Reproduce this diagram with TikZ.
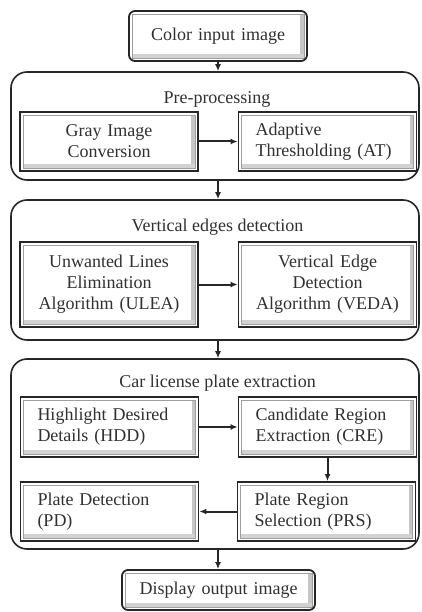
\documentclass[tikz,border=0pt]{standalone}
\usepackage{fontspec}
\setmainfont{Liberation Serif}
\usetikzlibrary{arrows.meta,calc}
\definecolor{lineC}{HTML}{262626}
\definecolor{textC}{HTML}{303030}
\tikzset{
  cont/.style={draw=lineC, line width=1.6pt, rounded corners=16pt, minimum width=408pt, inner sep=0pt},
  pbox/.style={draw=lineC, line width=1.8pt, minimum width=178pt, inner sep=0pt, text=textC,
    font=\fontsize{18}{21}\selectfont,
    path picture={
      \fill[gray!45, sharp corners] ([shift={(-7,3)}]path picture bounding box.north east) rectangle ([shift={(-3,-3)}]path picture bounding box.south east);
      \fill[gray!35, sharp corners] ([shift={(3,-7)}]path picture bounding box.south west) rectangle ([shift={(-3,-3)}]path picture bounding box.south east);
      \draw[gray!75, line width=0.8pt, sharp corners] ([shift={(3,3)}]path picture bounding box.north west) rectangle ([shift={(-3,-3)}]path picture bounding box.south east);
    }},
  cbox/.style={pbox, align=center, text width=160pt},
  lbox/.style={pbox, align=left, text width=144pt},
  ttl/.style={text=textC, font=\fontsize{18}{21}\selectfont, inner sep=0pt},
  arr/.style={draw=lineC, line width=2pt, -{Latex[length=7pt,width=6pt]}}
}
\begin{document}
\begin{tikzpicture}[x=1pt,y=-1pt]
\useasboundingbox (0,0) rectangle (421,612);
% containers
\node[cont, minimum height=108pt] (c1) at (215,126) {};
\node[cont, minimum height=140pt] (c2) at (215,270) {};
\node[cont, minimum height=190pt] (c3) at (215,454) {};
\node[ttl] (t1) at (217,99) {Pre-processing};
\node[ttl] (t2) at (217.5,227) {Vertical edges detection};
\node[ttl] (t3) at (217.5,383) {Car license plate extraction};
% top and bottom boxes
\node[pbox, rounded corners=6pt, minimum height=50pt, text width=160pt, align=center] (in) at (218,36) {Color input image};
\node[pbox, rounded corners=6pt, minimum width=193pt, minimum height=40pt, text width=175pt, align=center] (out) at (218.5,590) {Display output image};
% inner boxes
\node[cbox, minimum height=59pt] (gray) at (109,141.5) {Gray Image\\Conversion};
\node[lbox, minimum height=59pt] (at) at (327.5,141.5) {Adaptive\\Thresholding (AT)};
\node[cbox, minimum height=85pt] (ulea) at (109,284.5) {Unwanted Lines\\Elimination\\Algorithm (ULEA)};
\node[cbox, minimum height=85pt] (veda) at (327.5,284.5) {Vertical Edge\\Detection\\Algorithm (VEDA)};
\node[lbox, minimum height=60pt] (hdd) at (109.5,427) {Highlight Desired\\Details (HDD)};
\node[lbox, minimum height=60pt] (cre) at (327.5,427) {Candidate Region\\Extraction (CRE)};
\node[lbox, minimum height=59pt] (pd) at (109.5,511.5) {Plate Detection\\(PD)};
\node[lbox, minimum height=59pt] (prs) at (326.5,511.5) {Plate Region\\Selection (PRS)};
% arrows
\draw[arr] (in.south) -- (in.south |- c1.north);
\draw[arr] (c1.south -| in.south) -- (c2.north -| in.south);
\draw[arr] (c2.south -| in.south) -- (c3.north -| in.south);
\draw[arr] (c3.south -| in.south) -- (out.north -| in.south);
\draw[arr] (gray.east) -- (at.west);
\draw[arr] (ulea.east) -- (veda.west);
\draw[arr] (hdd.east) -- (cre.west);
\draw[arr] (cre.south) -- (cre.south |- prs.north);
\draw[arr] (prs.west) -- (pd.east);
\end{tikzpicture}
\end{document}
